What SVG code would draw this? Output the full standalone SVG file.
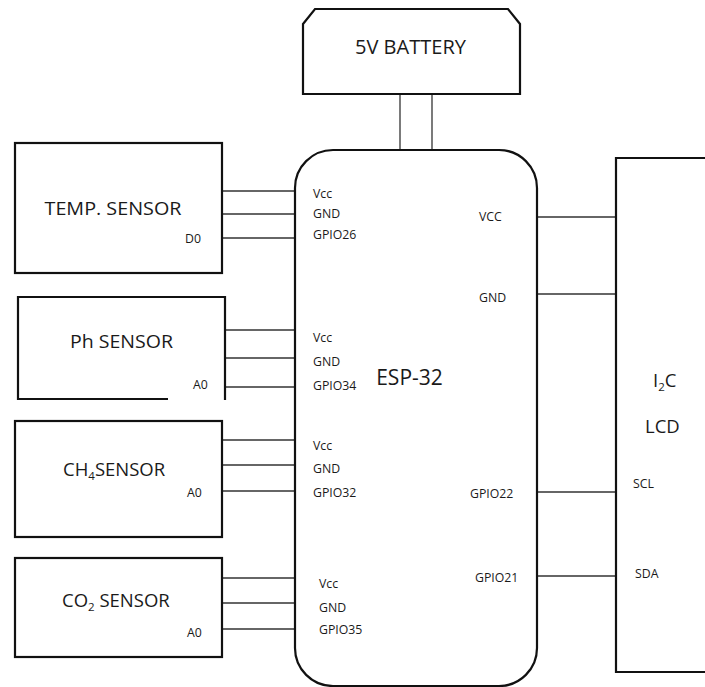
<svg xmlns="http://www.w3.org/2000/svg" width="705" height="687" viewBox="0 0 705 687">
<style>
.box{fill:#fff;stroke:#111;stroke-width:2.2}
.w{stroke:#333;stroke-width:1.3;fill:none}
.t{font-family:"Open Sans","Noto Sans",sans-serif;fill:#1a1a1a}
.big{font-size:18.5px}
.pin{font-size:12.3px}
.sub{font-size:11.5px}
</style>
<rect width="705" height="687" fill="#fff"/>
<g id="connectors">
<line class="w" x1="400" y1="94" x2="400" y2="150"/>
<line class="w" x1="432" y1="94" x2="432" y2="150"/>
<line class="w" x1="222" y1="191" x2="295" y2="191"/>
<line class="w" x1="222" y1="214" x2="295" y2="214"/>
<line class="w" x1="220" y1="238" x2="295" y2="238"/>
<line class="w" x1="225" y1="330" x2="295" y2="330"/>
<line class="w" x1="225" y1="358" x2="295" y2="358"/>
<line class="w" x1="225" y1="387" x2="295" y2="387"/>
<line class="w" x1="222" y1="440" x2="295" y2="440"/>
<line class="w" x1="222" y1="465" x2="295" y2="465"/>
<line class="w" x1="220" y1="491" x2="295" y2="491"/>
<line class="w" x1="222" y1="578" x2="295" y2="578"/>
<line class="w" x1="220" y1="603" x2="295" y2="603"/>
<line class="w" x1="222" y1="629" x2="295" y2="629"/>
<line class="w" x1="537" y1="217" x2="616" y2="217"/>
<line class="w" x1="537" y1="294" x2="616" y2="294"/>
<line class="w" x1="537" y1="492" x2="616" y2="492"/>
<line class="w" x1="537" y1="576" x2="616" y2="576"/>
</g>
<g id="battery">
<path class="box" d="M303 24 L315 9 L508 9 L520 24 L520 94 L303 94 Z"/>
<text class="t" x="410.5" y="54" font-size="20" text-anchor="middle" textLength="111" lengthAdjust="spacingAndGlyphs">5V BATTERY</text>
</g>
<g id="esp32">
<rect class="box" x="295" y="150" width="242" height="536" rx="38" ry="38"/>
<text class="t" x="409.5" y="385" font-size="21" text-anchor="middle">ESP-32</text>
<text class="t pin" x="313" y="198">Vcc</text>
<text class="t pin" x="313" y="218">GND</text>
<text class="t pin" x="313" y="239">GPIO26</text>
<text class="t pin" x="313" y="342">Vcc</text>
<text class="t pin" x="313" y="366">GND</text>
<text class="t pin" x="313" y="390">GPIO34</text>
<text class="t pin" x="313" y="450">Vcc</text>
<text class="t pin" x="313" y="473">GND</text>
<text class="t pin" x="313" y="497">GPIO32</text>
<text class="t pin" x="319" y="588">Vcc</text>
<text class="t pin" x="319" y="612">GND</text>
<text class="t pin" x="319" y="634">GPIO35</text>
<text class="t pin" x="479" y="221">VCC</text>
<text class="t pin" x="479" y="302">GND</text>
<text class="t pin" x="470" y="498">GPIO22</text>
<text class="t pin" x="475" y="582">GPIO21</text>
</g>
<g id="temp-sensor">
<rect class="box" x="15" y="143" width="207" height="130"/>
<text class="t big" x="113" y="215" text-anchor="middle" textLength="137" lengthAdjust="spacingAndGlyphs">TEMP. SENSOR</text>
<text class="t pin" x="185" y="243">D0</text>
</g>
<g id="ph-sensor">
<path class="box" d="M168 399 L18 399 L18 297 L225 297 L225 400" fill="none"/>
<text class="t big" x="121.5" y="348" text-anchor="middle" textLength="103" lengthAdjust="spacingAndGlyphs">Ph SENSOR</text>
<text class="t pin" x="193" y="389">A0</text>
</g>
<g id="ch4-sensor">
<rect class="box" x="15" y="421" width="207" height="116"/>
<text class="t big" x="63" y="476" font-size="19.5">CH<tspan class="sub" dy="4">4</tspan><tspan dy="-4">SENSOR</tspan></text>
<text class="t pin" x="187" y="497">A0</text>
</g>
<g id="co2-sensor">
<rect class="box" x="15" y="558" width="207" height="99"/>
<text class="t big" x="62" y="607" font-size="19">CO<tspan class="sub" dy="4">2</tspan><tspan dy="-4"> SENSOR</tspan></text>
<text class="t pin" x="187" y="637">A0</text>
</g>
<g id="lcd">
<path class="box" d="M710 158 L616 158 L616 672 L710 672"/>
<text class="t big" x="653" y="387">I<tspan class="sub" dy="4">2</tspan><tspan dy="-4">C</tspan></text>
<text class="t big" x="645" y="433">LCD</text>
<text class="t pin" x="633" y="488">SCL</text>
<text class="t pin" x="635" y="578">SDA</text>
</g>
</svg>
